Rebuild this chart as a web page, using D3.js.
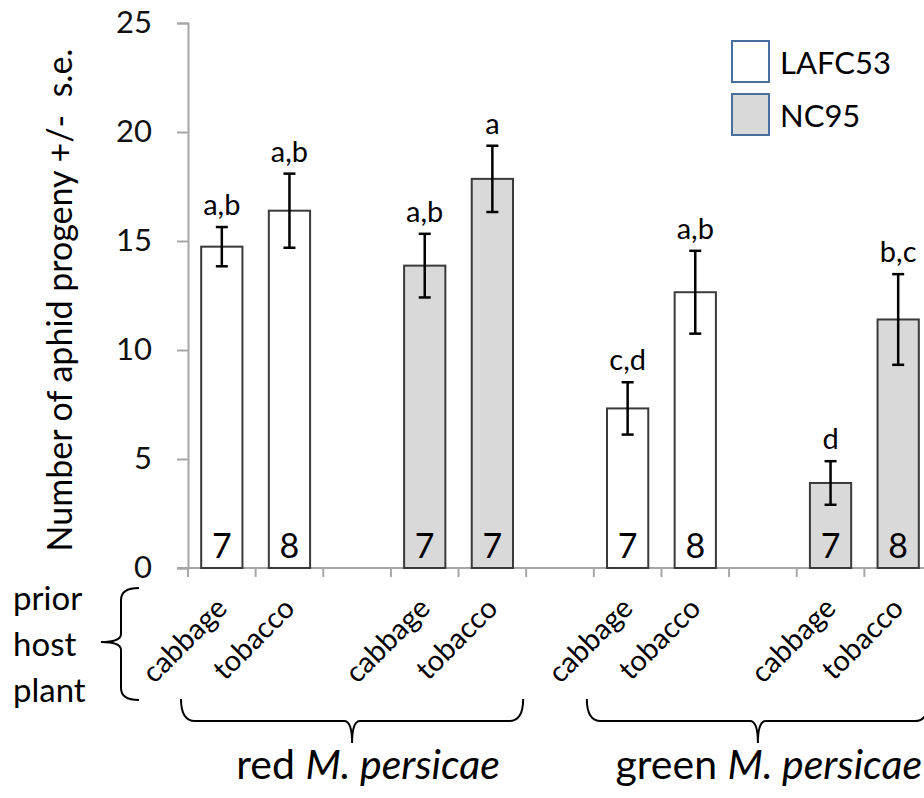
<!DOCTYPE html>
<html>
<head>
<meta charset="utf-8">
<script src="https://cdn.jsdelivr.net/npm/d3@7"></script>
<style>
  body { margin: 0; background: #fff; }
  svg { display: block; font-family: Lato, "Open Sans", sans-serif; }
</style>
</head>
<body>
<svg width="924" height="798"></svg>
<script>
// values
const groups = ["red", "green"]
const clones = ["LAFC53", "NC95"]
const hosts = ["cabbage", "tobacco"]
const means = [14.74, 16.39, 13.87, 17.85, 7.32, 12.65, 3.9, 11.4]
const errors = [0.9, 1.7, 1.46, 1.52, 1.2, 1.9, 1.0, 2.08]
const letters = ["a,b", "a,b", "a,b", "a", "c,d", "a,b", "d", "b,c"]
const sampleSizes = [7, 8, 7, 7, 7, 8, 7, 8]
const yTicks = [0, 5, 10, 15, 20, 25]

// one row per bar
var bars = []
var slots = []
groups.forEach((g, gi) => {
    clones.forEach((c, ci) => {
        hosts.forEach(h => {
            var i = bars.length
            var key = `${g}|${c}|${h}`
            bars.push({ key: key, group: g, clone: c, host: h, mean: means[i], se: errors[i], letter: letters[i], n: sampleSizes[i] })
            slots.push(key)
        })
        // empty slot between blocks
        if (!(gi == groups.length - 1 && ci == clones.length - 1)) slots.push(`gap-${gi}-${ci}`)
    })
})

var svg = d3.select("svg")

var x = d3.scaleBand().domain(slots).range([188, 932])
var y = d3.scaleLinear().domain([0, 25]).range([568, 23])
var fill = d3.scaleOrdinal().domain(clones).range(["#ffffff", "#d9d9d9"])
var bw = x.bandwidth() * 0.61

// y axis
var yAxis = svg.append("g")
    .attr("transform", "translate(188,0)")
    .call(d3.axisLeft(y).tickValues(yTicks).tickSize(11).tickPadding(25))
yAxis.select(".domain").attr("stroke", "#a6a6a6").attr("stroke-width", 2)
yAxis.selectAll(".tick line").attr("stroke", "#a6a6a6").attr("stroke-width", 2)
yAxis.selectAll(".tick text")
    .attr("font-size", 31)
    .attr("font-family", "Lato")
    .attr("fill", "#111")

// x axis line and slot boundary ticks
svg.append("line")
    .attr("x1", 177).attr("x2", 924)
    .attr("y1", y(0)).attr("y2", y(0))
    .attr("stroke", "#a6a6a6").attr("stroke-width", 2)

svg.selectAll("line.xtick")
    .data(slots)
    .join("line")
    .attr("class", "xtick")
    .attr("x1", d => x(d)).attr("x2", d => x(d))
    .attr("y1", y(0)).attr("y2", y(0) + 9)
    .attr("stroke", "#a6a6a6").attr("stroke-width", 2)

// bars
svg.selectAll("rect.bar")
    .data(bars)
    .join("rect")
    .attr("class", "bar")
    .attr("x", d => x(d.key) + (x.bandwidth() - bw) / 2)
    .attr("width", bw)
    .attr("y", d => y(d.mean))
    .attr("height", d => y(0) - y(d.mean))
    .attr("fill", d => fill(d.clone))
    .attr("stroke", "#3a3a3a")
    .attr("stroke-width", 2)

// error bars
var err = svg.selectAll("g.err")
    .data(bars)
    .join("g")
    .attr("class", "err")
    .attr("transform", d => `translate(${x(d.key) + x.bandwidth() / 2},0)`)
    .attr("stroke", "#000")
    .attr("stroke-width", 2.5)

err.append("line")
    .attr("y1", d => y(d.mean - d.se)).attr("y2", d => y(d.mean + d.se))
err.append("line")
    .attr("x1", -6).attr("x2", 6)
    .attr("y1", d => y(d.mean + d.se)).attr("y2", d => y(d.mean + d.se))
err.append("line")
    .attr("x1", -6).attr("x2", 6)
    .attr("y1", d => y(d.mean - d.se)).attr("y2", d => y(d.mean - d.se))

// significance letters
svg.selectAll("text.letter")
    .data(bars)
    .join("text")
    .attr("class", "letter")
    .attr("x", d => x(d.key) + x.bandwidth() / 2)
    .attr("y", d => y(d.mean + d.se) - 12)
    .attr("text-anchor", "middle")
    .attr("font-size", 29)
    .text(d => d.letter)

// sample sizes inside bars
svg.selectAll("text.n")
    .data(bars)
    .join("text")
    .attr("class", "n")
    .attr("x", d => x(d.key) + x.bandwidth() / 2)
    .attr("y", 558)
    .attr("text-anchor", "middle")
    .attr("font-size", 34)
    .text(d => d.n)

// host labels
svg.selectAll("text.host")
    .data(bars)
    .join("text")
    .attr("class", "host")
    .attr("text-anchor", "end")
    .attr("font-size", 29)
    .attr("transform", d => `translate(${x(d.key) + x.bandwidth() / 2 + 7},610) rotate(-45)`)
    .text(d => d.host)

// y axis title
svg.append("text")
    .attr("transform", "translate(72,300) rotate(-90)")
    .attr("text-anchor", "middle")
    .attr("font-size", 34)
    .style("white-space", "pre")
    .text("Number of aphid progeny +/-  s.e.")

// "prior host plant" with brace
svg.append("text")
    .attr("font-size", 33)
    .selectAll("tspan")
    .data(["prior", "host", "plant"])
    .join("tspan")
    .attr("x", 13)
    .attr("y", (d, i) => 610 + i * 46)
    .text(d => d)

svg.append("path")
    .attr("d", "M139,588 Q121,588 121,600 L121,634 Q121,642 101,642 Q121,642 121,650 L121,688 Q121,700 139,700")
    .attr("fill", "none").attr("stroke", "#000").attr("stroke-width", 2)

// group braces and labels
groups.forEach(g => {
    var keys = bars.filter(d => d.group == g).map(d => d.key)
    var L = x(keys[0]) - 7
    var R = x(keys[keys.length - 1]) + x.bandwidth() - 3
    var M = (L + R) / 2
    svg.append("path")
        .attr("d", `M${L},699 Q${L},721 ${L + 14},721 L${M - 8},721 Q${M},721 ${M},743 Q${M},721 ${M + 8},721 L${R - 14},721 Q${R},721 ${R},699`)
        .attr("fill", "none").attr("stroke", "#000").attr("stroke-width", 2)

    var t = svg.append("text")
        .attr("x", M + 16)
        .attr("y", 779)
        .attr("text-anchor", "middle")
        .attr("font-size", 41)
    t.append("tspan").text(g + " ")
    t.append("tspan").attr("font-style", "italic").text("M. persicae")

    // keep the label inside the page
    var w = t.node().getComputedTextLength()
    if (M + 16 + w / 2 > 922) t.attr("x", 922 - w / 2)
})

// legend
var legend = svg.selectAll("g.legend")
    .data(clones)
    .join("g")
    .attr("class", "legend")
    .attr("transform", (d, i) => `translate(732,${41 + i * 53})`)

legend.append("rect")
    .attr("width", 37).attr("height", 41)
    .attr("fill", d => fill(d))
    .attr("stroke", "#4a6e9c").attr("stroke-width", 2)

legend.append("text")
    .attr("x", 48).attr("y", 33)
    .attr("font-size", 31)
    .text(d => d)
</script>
</body>
</html>
